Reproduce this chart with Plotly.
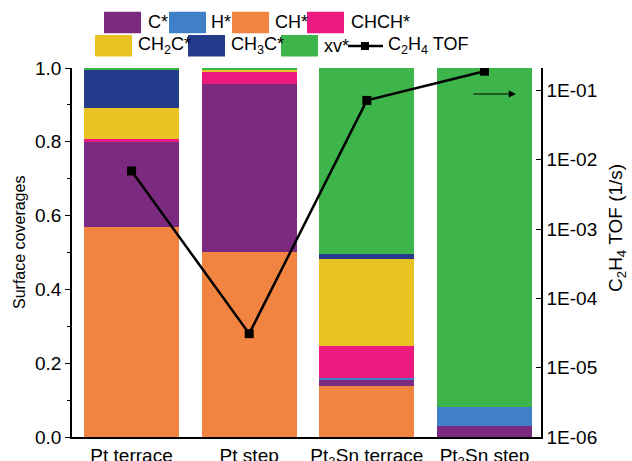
import plotly.graph_objects as go

# ---------------- data ----------------
categories = ["Pt terrace", "Pt step", "Pt<sub>3</sub>Sn terrace", "Pt<sub>3</sub>Sn step"]

# stacking order (bottom -> top): CH*, C*, H*, CHCH*, CH2C*, CH3C*, xv*
cov_CH   = [0.570, 0.502, 0.139, 0.000]
cov_C    = [0.232, 0.455, 0.015, 0.030]
cov_H    = [0.000, 0.000, 0.007, 0.050]
cov_CHCH = [0.005, 0.031, 0.086, 0.000]
cov_CH2C = [0.084, 0.009, 0.235, 0.000]
cov_CH3C = [0.104, 0.000, 0.013, 0.000]
cov_xv   = [0.005, 0.003, 0.505, 0.920]

tof_C2H4 = [6.9e-3, 3.1e-5, 7.2e-2, 1.9e-1]

species_names  = ["C*", "H*", "CH*", "CHCH*", "CH<sub>2</sub>C*", "CH<sub>3</sub>C*", "xv*"]
species_colors = ["#7B2A80", "#3F80C8", "#F28441", "#EC1A7F", "#E9C223", "#243A8A", "#3DB54A"]
species_values = [cov_C, cov_H, cov_CH, cov_CHCH, cov_CH2C, cov_CH3C, cov_xv]
stack_order = [2, 0, 1, 3, 4, 5, 6]   # indices into the lists above, bottom to top

right_tickvals = [1e-6, 1e-5, 1e-4, 1e-3, 1e-2, 1e-1]
right_ticktext = ["1E-06", "1E-05", "1E-04", "1E-03", "1E-02", "1E-01"]

FONT = "Liberation Sans, Arial, sans-serif"
W, H = 632, 461
L, R, T, B = 72, 541, 68, 437   # plot area in pixels

def px(xp):
    return (xp - L) / (R - L)

def py(yp):
    return (B - yp) / (B - T)

fig = go.Figure()
xs = list(range(len(categories)))
for i in stack_order:
    fig.add_trace(go.Bar(
        x=xs, y=species_values[i], name=species_names[i],
        marker=dict(color=species_colors[i], line=dict(width=0)),
        width=0.807, showlegend=False,
    ))

fig.add_trace(go.Scatter(
    x=xs, y=tof_C2H4, yaxis="y2", mode="lines+markers",
    line=dict(color="black", width=2.5),
    marker=dict(symbol="square", size=9, color="black"),
    showlegend=False, name="C2H4 TOF",
))

# ---------------- manual legend (large swatches) ----------------
shapes = []
annotations = []
legend_items = [
    # (species index, swatch left px, swatch top px, text left px)
    (0, 104, 11.7, 146), (1, 169, 11.7, 209), (2, 232, 11.7, 273), (3, 307, 11.7, 349),
    (4, 95, 35, 136), (5, 188, 35, 229), (6, 281, 35, 322),
]
sw_w, sw_h = 37, 21.5
for idx, x0, y0, tx in legend_items:
    shapes.append(dict(type="rect", xref="paper", yref="paper",
                       x0=px(x0), x1=px(x0 + sw_w), y0=py(y0 + sw_h), y1=py(y0),
                       fillcolor=species_colors[idx], line=dict(width=0)))
    annotations.append(dict(xref="paper", yref="paper", x=px(tx), y=py(y0 + sw_h / 2),
                            text=species_names[idx], showarrow=False,
                            xanchor="left", yanchor="middle",
                            font=dict(family=FONT, size=18, color="black")))
# TOF legend entry
ly = 46
shapes.append(dict(type="line", xref="paper", yref="paper",
                   x0=px(348), x1=px(383), y0=py(ly), y1=py(ly),
                   line=dict(color="black", width=2.5)))
shapes.append(dict(type="rect", xref="paper", yref="paper",
                   x0=px(361), x1=px(369), y0=py(ly + 4), y1=py(ly - 4),
                   fillcolor="black", line=dict(width=0)))
annotations.append(dict(xref="paper", yref="paper", x=px(386), y=py(ly),
                        text="C<sub>2</sub>H<sub>4</sub> TOF", showarrow=False,
                        xanchor="left", yanchor="middle",
                        font=dict(family=FONT, size=18, color="black")))

# arrow pointing to right axis
annotations.append(dict(xref="paper", yref="paper", x=px(516), y=py(94),
                        ax=-44, ay=0, axref="pixel", ayref="pixel",
                        showarrow=True, arrowhead=2, arrowsize=1.2, arrowwidth=1.2,
                        arrowcolor="black", text=""))

# axis titles
annotations.append(dict(xref="paper", yref="paper", x=px(19), y=py(243),
                        text="Surface coverages", showarrow=False, textangle=-90,
                        xanchor="center", yanchor="middle",
                        font=dict(family=FONT, size=16, color="black")))
annotations.append(dict(xref="paper", yref="paper", x=px(617), y=py(228),
                        text="C<sub>2</sub>H<sub>4</sub> TOF (1/s)", showarrow=False, textangle=-90,
                        xanchor="center", yanchor="middle",
                        font=dict(family=FONT, size=19, color="black")))

fig.update_layout(
    width=W, height=H,
    margin=dict(l=L, r=W - R, t=T, b=H - B, pad=0, autoexpand=False),
    paper_bgcolor="white", plot_bgcolor="white",
    barmode="stack", bargap=0,
    font=dict(family=FONT, size=19, color="black"),
    xaxis=dict(
        tickvals=xs, ticktext=categories, range=[-0.506, 3.48],
        showline=True, linecolor="black", linewidth=1.5, ticks="",
        showgrid=False, zeroline=False, tickfont=dict(size=19), automargin=False,
    ),
    yaxis=dict(
        range=[0, 1.0], tickvals=[0, 0.2, 0.4, 0.6, 0.8, 1.0],
        ticktext=["0.0", "0.2", "0.4", "0.6", "0.8", "1.0"],
        showline=True, linecolor="black", linewidth=1.5,
        ticks="outside", ticklen=5, tickwidth=1.2, tickcolor="black",
        minor=dict(dtick=0.1, ticks="outside", ticklen=3, tickcolor="black", tickwidth=1),
        showgrid=False, zeroline=False, tickfont=dict(size=19), automargin=False,
    ),
    yaxis2=dict(
        type="log", range=[-6, -0.675], overlaying="y", side="right",
        tickvals=right_tickvals, ticktext=right_ticktext,
        showline=True, linecolor="black", linewidth=1.5,
        ticks="inside", ticklen=5, tickwidth=1.2, tickcolor="black",
        showgrid=False, zeroline=False, tickfont=dict(size=19), automargin=False,
    ),
    shapes=shapes, annotations=annotations,
    showlegend=False,
)

fig.write_html("out.html")
